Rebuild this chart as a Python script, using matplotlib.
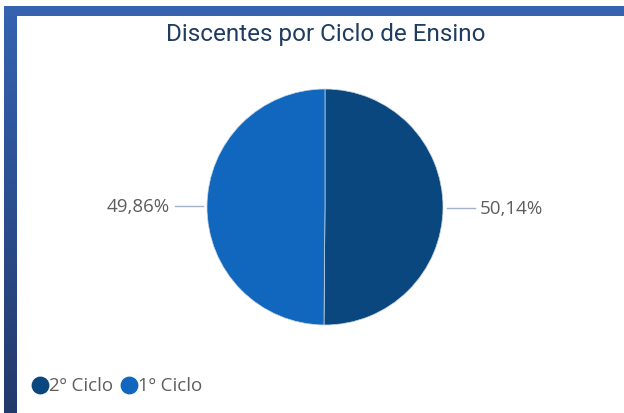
import numpy as np
import matplotlib
matplotlib.use("Agg")
import matplotlib.pyplot as plt
from matplotlib.colors import LinearSegmentedColormap
from matplotlib.patches import Rectangle

# Data
categories = ["2º Ciclo", "1º Ciclo"]
shares = [50.14, 49.86]
colors = ["#0b477f", "#1167bd"]
title = "Discentes por Ciclo de Ensino"

W, H = 624, 414
fig = plt.figure(figsize=(W / 100, H / 100), dpi=100)
ax = fig.add_axes([0, 0, 1, 1])

# Frame: left gradient bar and top bar
grad = np.linspace(0, 1, 256).reshape(-1, 1)
cmap = LinearSegmentedColormap.from_list("bar", ["#3563b0", "#22396b"])
ax.imshow(grad, cmap=cmap, extent=(4, 17, 0, H - 7), aspect="auto", zorder=1)
ax.add_patch(Rectangle((4, H - 17), W - 4, 10, color="#3563b0", lw=0, zorder=1))

# Pie
cx, cy, r = 325, 206, 118
wedges, _ = ax.pie(shares, colors=colors, startangle=90, counterclock=False,
                   center=(cx, cy), radius=r, frame=True,
                   wedgeprops=dict(edgecolor="#c9d6e6", linewidth=0.5))
ax.set_xlim(0, W)
ax.set_ylim(0, H)
ax.set_aspect("auto")
ax.axis("off")

# Labels with leader lines
for w, v in zip(wedges, shares):
    ang = np.deg2rad((w.theta1 + w.theta2) / 2)
    dx, dy = np.cos(ang), np.sin(ang)
    x0, y0 = cx + (r + 4) * dx, cy + (r + 4) * dy
    x1 = cx + (r + 32) * dx
    ax.plot([x0, x1], [y0, y0], color="#a3b2c4", lw=1, zorder=3)
    lbl = f"{v:.2f}%".replace(".", ",")
    ha = "left" if dx > 0 else "right"
    ax.text(x1 + 5 * np.sign(dx), y0, lbl, ha=ha, va="center",
            fontsize=13.5, color="#605e5c", family="Open Sans")

# Title
ax.text(326, H - 34, title, ha="center", va="center", fontsize=17.5,
        color="#1f3c61", family="Roboto")

# Legend
lx = 40
for c, name in zip(colors, categories):
    ax.scatter([lx], [H - 386], s=140, color=c, zorder=4)
    t = ax.text(lx + 9, H - 386, name, ha="left", va="center", fontsize=13.5,
                color="#605e5c", family="Open Sans")
    fig.canvas.draw()
    bb = t.get_window_extent()
    lx = bb.x1 + 16

fig.savefig("out.png", dpi=100)
